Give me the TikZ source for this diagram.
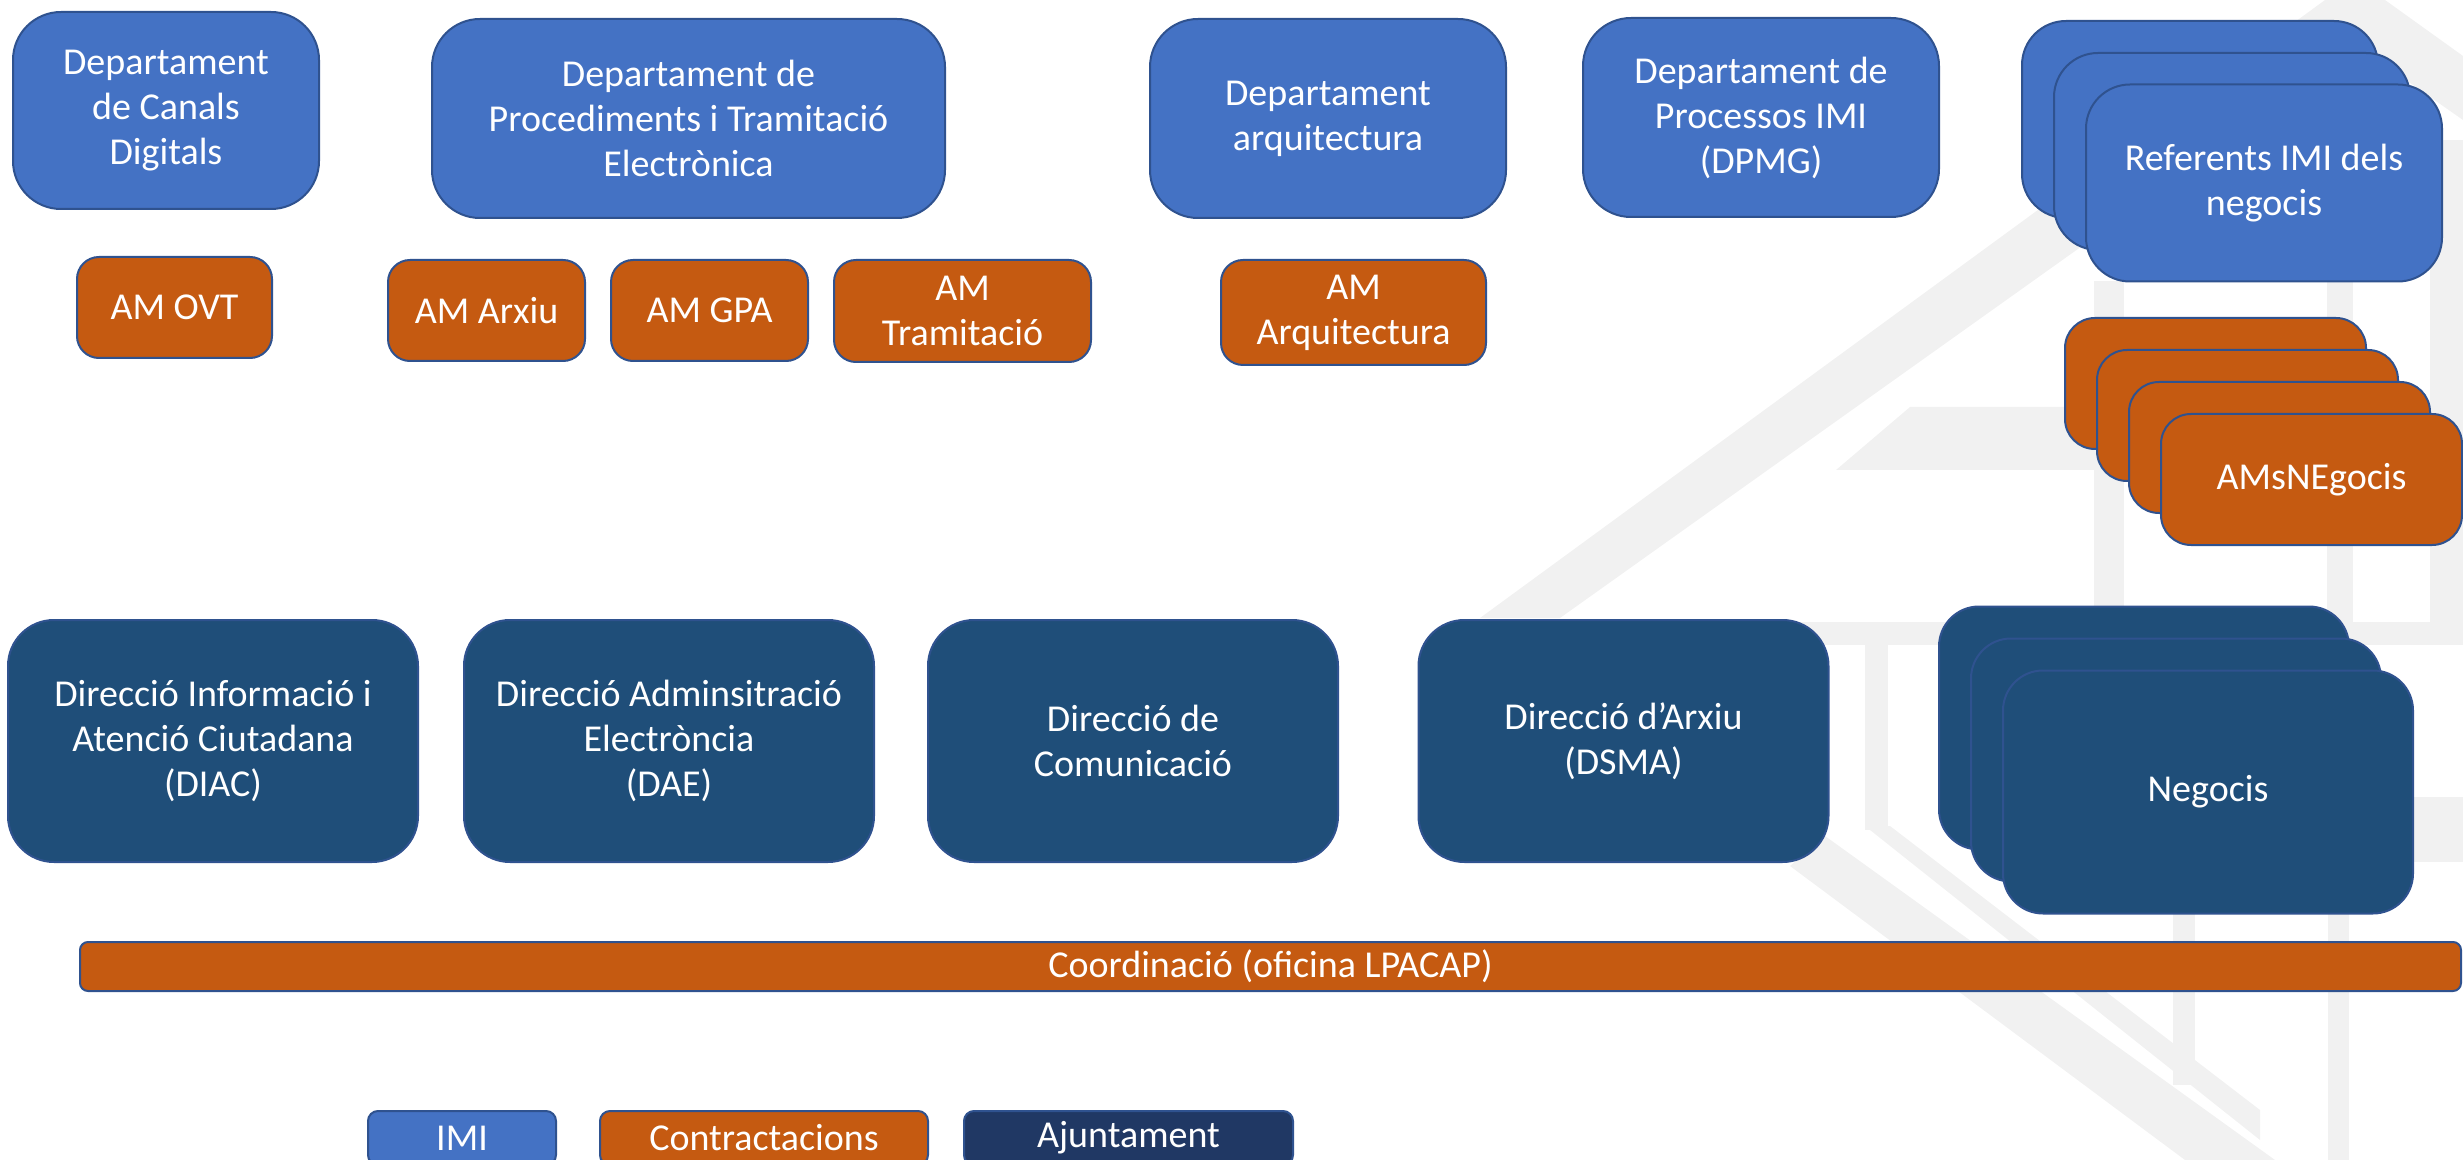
\documentclass[tikz,border=0pt]{standalone}
\usepackage{fontspec}
\setmainfont{Carlito}
\definecolor{imiblue}{HTML}{4472C4}
\definecolor{controrange}{HTML}{C55A11}
\definecolor{dirblue}{HTML}{1F4E79}
\definecolor{ajuntblue}{HTML}{203864}
\definecolor{boxline}{HTML}{2F528F}
\definecolor{wmgray}{HTML}{F1F1F1}
\begin{document}
\begin{tikzpicture}[x=0.5pt,y=-0.5pt,
		box/.style={draw=boxline,line width=1pt,text=white,align=center,inner sep=0pt,
			font=\fontsize{19}{22.5}\selectfont},
		imibox/.style={box,fill=imiblue,rounded corners=24pt,minimum width=178pt,minimum height=99.5pt},
		ambox/.style={box,fill=controrange,rounded corners=11pt,minimum height=50.5pt},
		dirbox/.style={box,fill=dirblue,rounded corners=23pt,minimum width=205pt,minimum height=121pt},
		legbox/.style={box,rounded corners=5pt,minimum height=27pt},
		wmark/.style={fill=wmgray}]
		\useasboundingbox (0,0) rectangle (2463,1160);
		\clip (0,0) rectangle (2463,1160);
		% watermark
		\fill[wmark] (1480,618) -- (2325,0) -- (2385,0) -- (2463,56) -- (2463,120) -- (2360,48) -- (1560,618) -- cycle;
		\fill[wmark] (1480,622) rectangle (2463,645);
		\fill[wmark] (1836,470) -- (1910,407) -- (2130,407) -- (2130,470) -- cycle;
		\fill[wmark] (2094,281) rectangle (2124,622);
		\fill[wmark] (2327,281) rectangle (2353,622);
		\fill[wmark] (2430,140) rectangle (2463,622);
		\fill[wmark] (2414,797) rectangle (2463,862);
		\fill[wmark] (2328,645) rectangle (2349,1160);
		\fill[wmark] (1865,645) rectangle (1888,830);
		\fill[wmark] (1825,836) -- (2275,1160) -- (2185,1160) -- (1790,866) -- cycle;
		\fill[wmark] (1865,826) -- (1890,826) -- (2260,1110) -- (2260,1140) -- cycle;
		\fill[wmark] (2173,913) rectangle (2195,1085);
		% IMI
		\node[imibox,minimum width=153pt,minimum height=98.5pt] (canals) at (166,110.5) {Departament\\de Canals\\Digitals};
		\node[imibox,minimum width=256.5pt] (proced) at (688.5,118.5) {Departament de\\Procediments i Tramitació\\Electrònica};
		\node[imibox] (arquit) at (1328,118.5) {Departament\\arquitectura};
		\node[imibox] (dpmg) at (1761,117.5) {Departament de\\Processos IMI\\(DPMG)};
		\foreach \k in {0,1}
			\node[imibox,rounded corners=22pt,minimum height=98.5pt] (refback\k) at (2200+32*\k,119.5+32*\k) {};
		\node[imibox,rounded corners=22pt,minimum height=98.5pt] (referents) at (2264,183) {Referents IMI dels\\negocis};
		% contractacions
		\node[ambox,minimum width=97.5pt] (amovt) at (174.5,307.5) {AM OVT};
		\node[ambox,minimum width=98.5pt] (amarxiu) at (486.5,310.5) {AM Arxiu};
		\node[ambox,minimum width=98.5pt] (amgpa) at (709.5,310.5) {AM GPA};
		\node[ambox,minimum width=128.5pt,minimum height=51pt] (amtram) at (962.5,311) {AM\\Tramitació};
		\node[ambox,minimum width=132.5pt,minimum height=52.5pt] (amarq) at (1353.5,312.5) {AM\\Arquitectura};
		\foreach \k in {0,1,2}
			\node[ambox,rounded corners=15pt,minimum width=150.5pt,minimum height=65.5pt] (amsback\k) at (2215.5+32*\k,383.5+32*\k) {};
		\node[ambox,rounded corners=15pt,minimum width=150.5pt,minimum height=65.5pt] (amsnegocis) at (2311.5,479.5) {AMsNEgocis};
		% ajuntament
		\node[dirbox] (diac) at (213,741) {Direcció Informació i\\Atenció Ciutadana\\(DIAC)};
		\node[dirbox] (dae) at (669,741) {Direcció Adminsitració\\Electròncia\\(DAE)};
		\node[dirbox] (comunicacio) at (1133,741) {Direcció de\\Comunicació};
		\node[dirbox] (dsma) at (1623.5,741) {Direcció d’Arxiu\\(DSMA)};
		\foreach \k in {0,1}
			\node[dirbox,rounded corners=20pt,minimum height=121.5pt] (negback\k) at (2144+32*\k,728+32*\k) {};
		\node[dirbox,rounded corners=20pt,minimum height=121.5pt] (negocis) at (2208,792) {Negocis};
		\node[box,fill=controrange,rounded corners=4pt,minimum width=1190.5pt,minimum height=24.5pt] (coord) at (1270.5,966.5) {Coordinació (oficina LPACAP)};
		% llegenda
		\node[legbox,fill=imiblue,minimum width=94pt] (legimi) at (462,1138) {IMI};
		\node[legbox,fill=controrange,minimum width=164pt] (legcontr) at (764,1138) {Contractacions};
		\node[legbox,fill=ajuntblue,minimum width=164.5pt] (legajunt) at (1128.5,1138) {Ajuntament};
	\end{tikzpicture}
\end{document}
